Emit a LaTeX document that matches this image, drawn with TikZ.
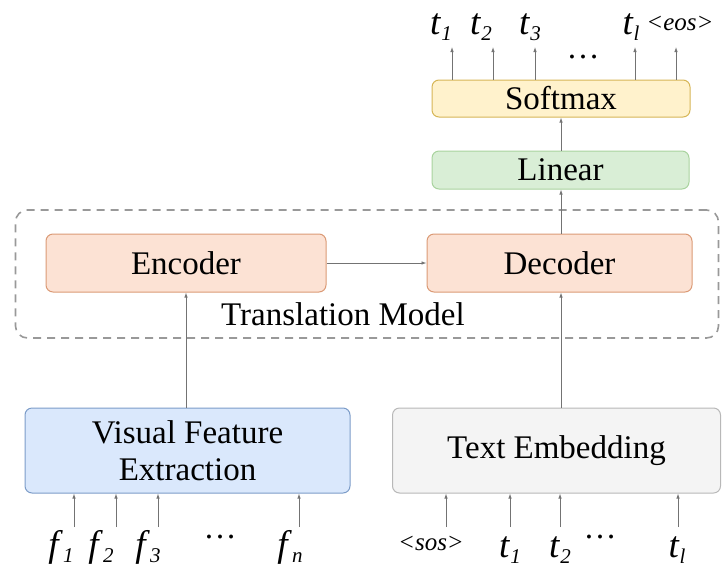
\documentclass[tikz,border=0pt]{standalone}
\usepackage{fontspec}
\setmainfont{Liberation Serif}
\usetikzlibrary{arrows.meta}
\definecolor{smfill}{HTML}{FFF2CC}\definecolor{smdraw}{HTML}{D6B656}
\definecolor{linfill}{HTML}{D9EED6}\definecolor{lindraw}{HTML}{A9D39E}
\definecolor{codfill}{HTML}{FCE2D4}\definecolor{coddraw}{HTML}{DB9A76}
\definecolor{vfefill}{HTML}{DAE8FC}\definecolor{vfedraw}{HTML}{7C9CC8}
\definecolor{embfill}{HTML}{F4F4F4}\definecolor{embdraw}{HTML}{B8B8B8}
\newcommand{\tok}[2]{\textit{#1}\raisebox{-.18em}{\fontsize{21}{21}\selectfont\textit{#2}}}
\newcommand{\spec}[1]{{\fontsize{25}{25}\selectfont\textit{<#1>}}}

\begin{document}
\begin{tikzpicture}[x=1pt, y=-1pt,
  box/.style={rounded corners=7pt, line width=1pt, align=center, inner sep=0pt,
    font=\fontsize{33}{37}\selectfont},
  arr/.style={draw=black!55, line width=.8pt, -{Latex[length=5pt,width=3.5pt]}},
  lbl/.style={inner sep=0pt, anchor=base, font=\fontsize{37}{37}\selectfont}]
\useasboundingbox (0,0) rectangle (722,568);
% dashed frame of the translation model
\node[draw=black!40, line width=1.6pt, dash pattern=on 8pt off 6pt, rounded corners=12pt,
  minimum width=703pt, minimum height=128pt] (frame) at (367,274) {};
\node[inner sep=0pt, font=\fontsize{33}{33}\selectfont] (tm) at (343,314) {Translation Model};
\node[box, fill=codfill, draw=coddraw, minimum width=280pt, minimum height=58pt] (enc) at (186,263) {Encoder};
\node[box, fill=codfill, draw=coddraw, minimum width=265pt, minimum height=58pt] (dec) at (559.5,263) {Decoder};
\node[box, fill=linfill, draw=lindraw, minimum width=257pt, minimum height=38pt] (lin) at (560.5,170) {Linear};
\node[box, fill=smfill, draw=smdraw, minimum width=258pt, minimum height=37pt] (sm) at (561,98.5) {Softmax};
\node[box, fill=vfefill, draw=vfedraw, minimum width=325pt, minimum height=85pt] (vfe) at (187.5,450.5) {Visual Feature\\Extraction};
\node[box, fill=embfill, draw=embdraw, minimum width=328pt, minimum height=85pt] (emb) at (556.5,450.5) {Text Embedding};

% main flow
\draw[arr] (enc) -- (dec);
\draw[arr] (vfe.north -| enc) -- (enc.south);
\draw[arr] (emb.north -| 561,0) -- (dec.south -| 561,0);
\draw[arr] (dec.north -| 561,0) -- (lin.south -| 561,0);
\draw[arr] (lin.north -| 561,0) -- (sm.south -| 561,0);

% outputs
\node[lbl] (o1) at (441,34) {\tok{t}{1}};
\node[lbl] (o2) at (481,34) {\tok{t}{2}};
\node[lbl] (o3) at (530,34) {\tok{t}{3}};
\node[lbl, font=\fontsize{33}{33}\selectfont] (odots) at (583,58) {\dots};
\node[lbl] (ol) at (631,34) {\tok{t}{l}};
\node[lbl] (oeos) at (680,30) {\spec{eos}};
\foreach \x [count=\i] in {452,493,535,635,676}
  \coordinate (out\i) at (\x,47);
\foreach \i in {1,...,5}
  \draw[arr] (sm.north -| out\i) -- (out\i);

% visual inputs
\node[lbl] (f1) at (61,556) {\tok{f}{1}};
\node[lbl] (f2) at (101,556) {\tok{f}{2}};
\node[lbl] (f3) at (148,556) {\tok{f}{3}};
\node[lbl, font=\fontsize{33}{33}\selectfont] (fdots) at (220,538) {\dots};
\node[lbl] (fn) at (290,556) {\tok{f}{n}};
\foreach \x [count=\i] in {74,116,158,299}
  \coordinate (in\i) at (\x,527);
\foreach \i in {1,...,4}
  \draw[arr] (in\i) -- (vfe.south -| in\i);

% text inputs
\node[lbl] (sos) at (431,550) {\spec{sos}};
\node[lbl] (e1) at (510,557) {\tok{t}{1}};
\node[lbl] (e2) at (560,557) {\tok{t}{2}};
\node[lbl, font=\fontsize{33}{33}\selectfont] (edots) at (600,538) {\dots};
\node[lbl] (el) at (677,557) {\tok{t}{l}};
\foreach \x [count=\i] in {446,510,560,678}
  \coordinate (tin\i) at (\x,527);
\foreach \i in {1,...,4}
  \draw[arr] (tin\i) -- (emb.south -| tin\i);
\end{tikzpicture}
\end{document}
